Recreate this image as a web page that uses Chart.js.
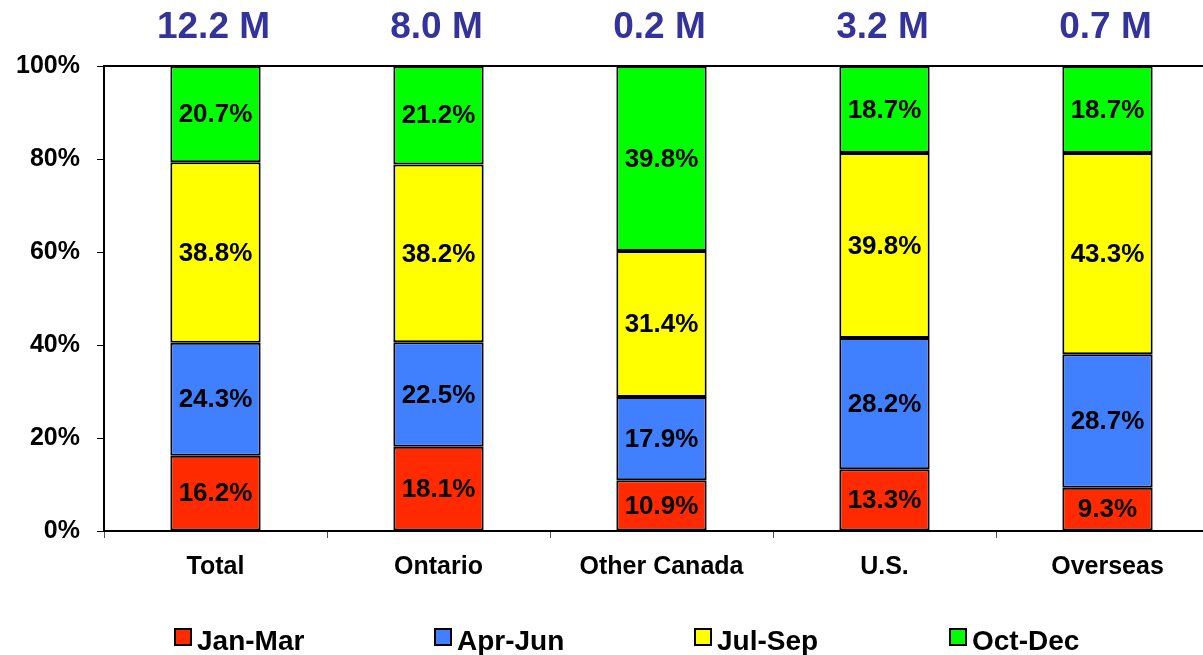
<!DOCTYPE html>
<html lang="en">
<head>
    <meta charset="UTF-8">
    <title>Visits by Quarter</title>
    <script src="https://cdn.jsdelivr.net/npm/chart.js"></script>
    <style>
        body {
            margin: 0;
            padding: 0;
            background-color: #ffffff;
            overflow: hidden;
        }
        .chart-wrapper {
            width: 1225px;
            height: 655px;
        }
    </style>
</head>
<body>
    <div class="chart-wrapper">
        <canvas id="quarterChart"></canvas>
    </div>

    <script>
        // Share of visits per quarter, by market
        const markets = ['Total', 'Ontario', 'Other Canada', 'U.S.', 'Overseas'];
        const totals = ['12.2 M', '8.0 M', '0.2 M', '3.2 M', '0.7 M'];
        const quarters = ['Jan-Mar', 'Apr-Jun', 'Jul-Sep', 'Oct-Dec'];
        const janMar = [16.2, 18.1, 10.9, 13.3, 9.3];
        const aprJun = [24.3, 22.5, 17.9, 28.2, 28.7];
        const julSep = [38.8, 38.2, 31.4, 39.8, 43.3];
        const octDec = [20.7, 21.2, 39.8, 18.7, 18.7];
        const yTicks = [0, 20, 40, 60, 80, 100];

        const colors = ['#FF2A00', '#4080FF', '#FFFF00', '#00FF00'];
        const FONT = '"Liberation Sans", Arial, sans-serif';

        const datasets = [janMar, aprJun, julSep, octDec].map((values, i) => ({
            label: quarters[i],
            data: values,
            backgroundColor: colors[i],
            borderColor: '#000000',
            borderWidth: 2,
            borderSkipped: false,
            categoryPercentage: 1.0,
            barPercentage: 0.405
        }));

        // percentage text in the middle of each segment, totals above the bars,
        // frame line on top and the legend row along the bottom
        const decorations = {
            id: 'decorations',
            afterDatasetsDraw(chart) {
                const ctx = chart.ctx;
                const area = chart.chartArea;
                ctx.save();

                ctx.strokeStyle = '#000000';
                ctx.lineWidth = 2;
                ctx.beginPath();
                ctx.moveTo(area.left, area.top);
                ctx.lineTo(area.right, area.top);
                ctx.stroke();

                ctx.textAlign = 'center';
                ctx.textBaseline = 'middle';
                ctx.fillStyle = '#000000';
                ctx.font = 'bold 26px ' + FONT;
                chart.data.datasets.forEach((ds, i) => {
                    chart.getDatasetMeta(i).data.forEach((bar, j) => {
                        const p = bar.getCenterPoint();
                        ctx.fillText(ds.data[j].toFixed(1) + '%', p.x, p.y + 1);
                    });
                });

                const xScale = chart.scales.x;
                ctx.fillStyle = '#333399';
                ctx.font = 'bold 37px ' + FONT;
                totals.forEach((t, j) => {
                    ctx.fillText(t, xScale.getPixelForValue(j) - 2, 28);
                });

                ctx.textAlign = 'left';
                ctx.font = 'bold 28px ' + FONT;
                const legendX = [175, 435, 695, 950];
                chart.data.datasets.forEach((ds, i) => {
                    const x = legendX[i];
                    ctx.fillStyle = ds.backgroundColor;
                    ctx.fillRect(x, 629, 16, 16);
                    ctx.strokeStyle = '#000000';
                    ctx.lineWidth = 2;
                    ctx.strokeRect(x, 629, 16, 16);
                    ctx.fillStyle = '#000000';
                    ctx.fillText(ds.label, x + 22, 642);
                });

                ctx.restore();
            }
        };

        const ctx = document.getElementById('quarterChart').getContext('2d');
        new Chart(ctx, {
            type: 'bar',
            data: {
                labels: markets,
                datasets: datasets
            },
            options: {
                responsive: true,
                maintainAspectRatio: false,
                animation: false,
                layout: {
                    padding: { left: 0, right: 6, top: 66, bottom: 0 }
                },
                plugins: {
                    legend: { display: false },
                    tooltip: { enabled: false }
                },
                scales: {
                    x: {
                        stacked: true,
                        afterFit(scale) { scale.height = 124; },
                        grid: {
                            offset: true,
                            drawOnChartArea: false,
                            drawTicks: true,
                            tickLength: 7,
                            color: '#555555',
                            lineWidth: 1
                        },
                        border: { display: true, color: '#000000', width: 2 },
                        ticks: {
                            color: '#000000',
                            padding: 14,
                            font: { family: FONT, size: 25, weight: 'bold' }
                        }
                    },
                    y: {
                        stacked: true,
                        min: 0,
                        max: 100,
                        afterFit(scale) { scale.width = 104; },
                        afterBuildTicks(scale) {
                            scale.ticks = yTicks.map(v => ({ value: v }));
                        },
                        grid: {
                            drawOnChartArea: false,
                            drawTicks: true,
                            tickLength: 7,
                            color: '#000000',
                            lineWidth: 1
                        },
                        border: { display: true, color: '#000000', width: 2 },
                        ticks: {
                            color: '#000000',
                            padding: 17,
                            font: { family: FONT, size: 25, weight: 'bold' },
                            callback: v => v + '%'
                        }
                    }
                }
            },
            plugins: [decorations]
        });
    </script>
</body>
</html>
